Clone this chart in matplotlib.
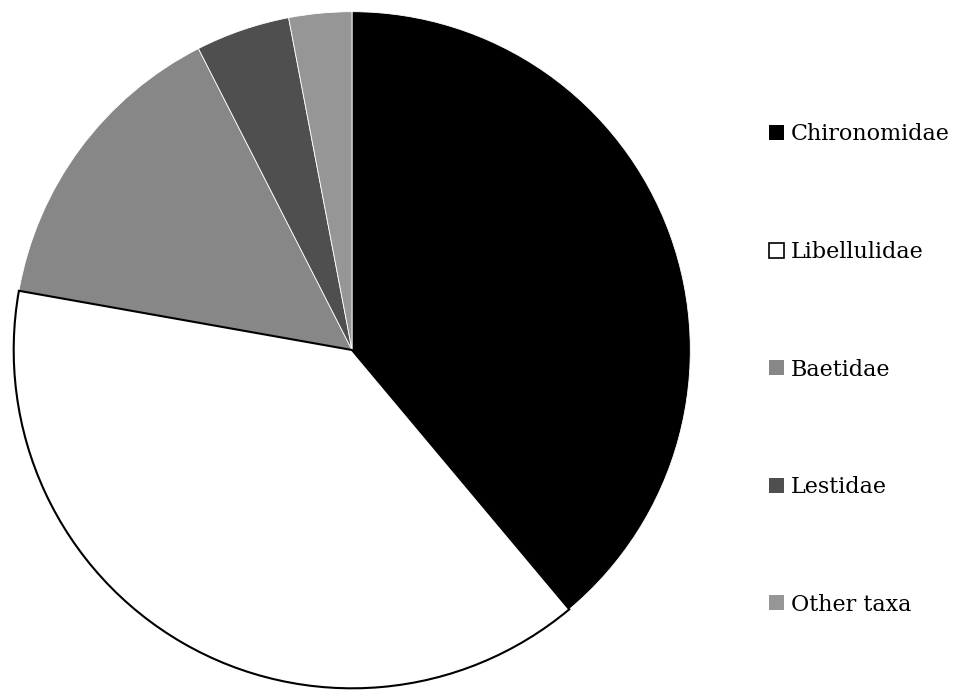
import matplotlib.pyplot as plt
from matplotlib.patches import Patch

taxa = ["Chironomidae", "Libellulidae", "Baetidae", "Lestidae", "Other taxa"]
shares = [38.9, 38.9, 14.7, 4.5, 3.0]
fills = ["#000000", "#ffffff", "#878787", "#4f4f4f", "#969696"]

fig = plt.figure(figsize=(9.58, 6.92), dpi=100)
ax = fig.add_axes([12 / 958, 2 / 692, 680 / 958, 680 / 692])

wedges, _ = ax.pie(shares, colors=fills, startangle=90, counterclock=False,
                   radius=1.0, wedgeprops=dict(linewidth=0.6, edgecolor="white"))
wedges[1].set_edgecolor("black")
wedges[1].set_linewidth(1.5)
wedges[1].set_zorder(3)
ax.set_xlim(-1.005, 1.005)
ax.set_ylim(-1.005, 1.005)
ax.set_aspect("equal")
ax.axis("off")

handles = [Patch(facecolor=c, edgecolor="black" if c == "#ffffff" else c,
                 linewidth=1.2 if c == "#ffffff" else 0) for c in fills]
fig.legend(handles, taxa, loc="center left", bbox_to_anchor=(769 / 958, 1 - 369.5 / 692),
           frameon=False, prop={"family": "DejaVu Serif", "size": 16},
           handlelength=0.68, handleheight=0.68, handletextpad=0.32,
           labelspacing=4.3, borderpad=0, borderaxespad=0)

fig.savefig("out.png", dpi=100)
